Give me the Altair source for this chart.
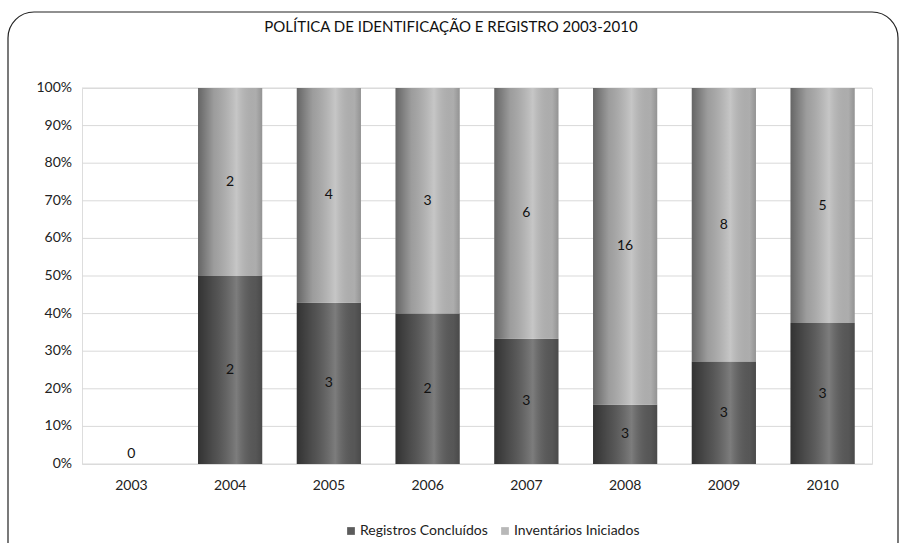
import altair as alt
import pandas as pd

years = ["2003", "2004", "2005", "2006", "2007", "2008", "2009", "2010"]
registros = [0, 2, 3, 2, 3, 3, 3, 3]
inventarios = [0, 2, 4, 3, 6, 16, 8, 5]
series_names = ["Registros Concluídos", "Inventários Iniciados"]
title_text = "POLÍTICA DE IDENTIFICAÇÃO E REGISTRO 2003-2010"
y_ticks = [0, 0.1, 0.2, 0.3, 0.4, 0.5, 0.6, 0.7, 0.8, 0.9, 1.0]

rows = []
for y, r, i in zip(years, registros, inventarios):
    rows.append({"year": y, "series": series_names[0], "value": r, "idx": 0})
    rows.append({"year": y, "series": series_names[1], "value": i, "idx": 1})
df = pd.DataFrame(rows)

FONT = "Lato"
W, H = 790, 376

yscale = alt.Scale(domain=[0, 1], nice=False)

def Y(field):
    return alt.Y(field, scale=yscale, axis=None, title=None)

base = alt.Chart(df).transform_joinaggregate(
    total="sum(value)", groupby=["year"]
)

xenc = alt.X("year:N", sort=years, title=None,
             scale=alt.Scale(paddingInner=0.35, paddingOuter=0.175),
             axis=alt.Axis(labelAngle=0, ticks=False, domain=False, grid=False,
                           labelFontSize=14, labelColor="#222", labelFont=FONT, labelPadding=14))

# y gridlines and tick labels, driven by the y scale
tick_df = pd.DataFrame({"tick": y_ticks})
ticks_base = alt.Chart(tick_df).transform_calculate(lab="format(datum.tick, '.0%')")
grid = ticks_base.mark_rule(color="#d9d9d9", strokeWidth=1).encode(
    y=Y("tick:Q"), x=alt.value(0), x2=alt.value(W)
)
ylabels = ticks_base.mark_text(align="right", baseline="middle", fontSize=14, font=FONT,
                               color="#222").encode(
    y=Y("tick:Q"), x=alt.value(-10), text="lab:N"
)

stacked = base.transform_filter("datum.total > 0").transform_stack(
    stack="value", groupby=["year"], as_=["v0", "v1"],
    sort=[alt.SortField("idx", order="ascending")], offset="normalize"
).transform_calculate(mid="(datum.v0 + datum.v1) / 2")

bars = stacked.mark_bar(strokeWidth=0).encode(
    x=xenc,
    y=Y("v0:Q"),
    y2="v1:Q",
    color=alt.Color("series:N", scale=alt.Scale(domain=series_names, range=["#5c5c5c", "#b8b8b8"]),
                    legend=alt.Legend(title=None, orient="none", direction="horizontal",
                                      legendX=262, legendY=436, symbolType="square",
                                      symbolSize=60, symbolStrokeWidth=0, labelFontSize=14,
                                      labelFont=FONT, labelColor="#222",
                                      symbolOffset=0, labelOffset=2)),
)

grad = alt.Gradient(
    gradient="linear", x1=0, x2=1, y1=0, y2=0,
    stops=[
        alt.GradientStop(offset=0, color="rgba(0,0,0,0.45)"),
        alt.GradientStop(offset=0.25, color="rgba(0,0,0,0.15)"),
        alt.GradientStop(offset=0.6, color="rgba(255,255,255,0.2)"),
        alt.GradientStop(offset=0.9, color="rgba(0,0,0,0.06)"),
        alt.GradientStop(offset=1, color="rgba(0,0,0,0.2)"),
    ],
)

shade = stacked.mark_bar(fill=grad, strokeWidth=0).encode(
    x=xenc,
    y=Y("v0:Q"),
    y2="v1:Q",
)

labels = stacked.mark_text(fontSize=14, font=FONT, color="#111").encode(
    x=xenc,
    y=Y("mid:Q"),
    text="value:Q",
)

zero_label = base.transform_filter("datum.total == 0").transform_filter(
    "datum.idx == 0"
).transform_calculate(z="0").mark_text(
    fontSize=14, font=FONT, color="#111", baseline="bottom", dy=-3
).encode(
    x=xenc,
    y=Y("z:Q"),
    text="value:Q",
)

one = alt.Chart(pd.DataFrame({"t": [title_text]}))
title = one.mark_text(fontSize=15, font=FONT, color="#111").encode(
    x=alt.value(369), y=alt.value(-61), text="t:N"
)
border = one.mark_rect(fill=None, stroke="#222", strokeWidth=1.2, cornerRadius=26).encode(
    x=alt.value(-74), x2=alt.value(816), y=alt.value(-76), y2=alt.value(480)
)

chart = alt.layer(grid, ylabels, bars, shade, labels, zero_label, title, border).properties(
    width=W, height=H,
    autosize=alt.AutoSizeParams(type="none"),
    padding={"left": 82, "top": 88, "right": 30, "bottom": 79},
).configure_view(stroke=None).configure(background="white")

chart.save("out.html", embed_options={"renderer": "svg", "actions": False})
